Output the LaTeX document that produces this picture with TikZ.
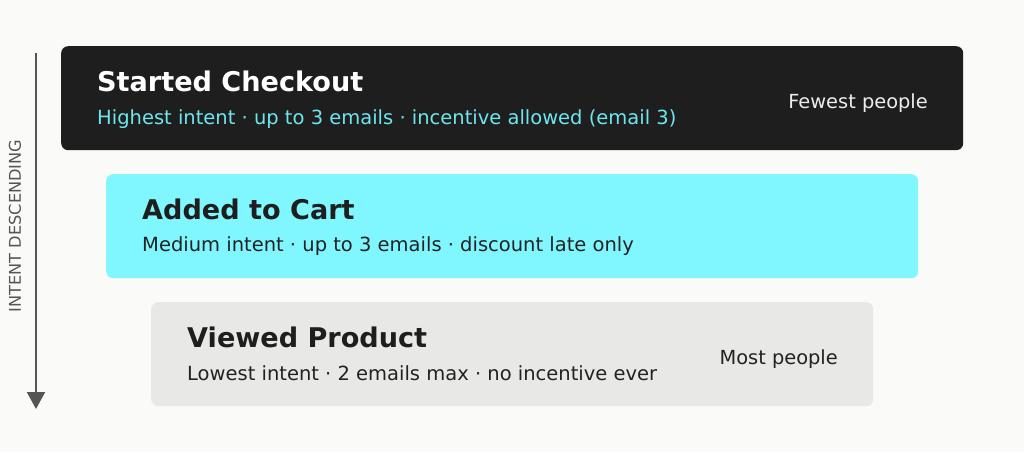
\documentclass[tikz,border=0pt]{standalone}
\usepackage{fontspec}
\setmainfont{DejaVu Sans}
\usetikzlibrary{arrows.meta}
\definecolor{bg}{HTML}{FAFAF8}
\definecolor{darkbox}{HTML}{1E1E1E}
\definecolor{cyanbox}{HTML}{80F7FF}
\definecolor{greybox}{HTML}{E8E8E6}
\definecolor{cyantext}{HTML}{6EE6EE}
\definecolor{inktext}{HTML}{222222}
\definecolor{arrowgrey}{HTML}{555555}
\definecolor{lighttext}{HTML}{EDEDED}
\tikzset{
  tier/.style={rounded corners=7pt, minimum width=#1, minimum height=104pt, inner sep=0pt, anchor=north west, draw=none},
  title/.style={anchor=base west, inner sep=0pt, font=\fontsize{27.1}{30}\selectfont\bfseries},
  sub/.style={anchor=base west, inner sep=0pt, font=\fontsize{19.5}{22}\selectfont},
  side/.style={anchor=base east, inner sep=0pt, font=\fontsize{19.4}{22}\selectfont},
}
\begin{document}
\begin{tikzpicture}[x=1pt,y=-1pt]
\fill[bg] (0,0) rectangle (1024,452);
\useasboundingbox (0,0) rectangle (1024,452);
% tiers
\node[tier=902pt, fill=darkbox] (t1) at (61,46) {};
\node[tier=812pt, fill=cyanbox] (t2) at (106,174) {};
\node[tier=722pt, fill=greybox] (t3) at (151,302) {};
% texts tier 1
\node[title, text=white] (t1h) at (97,91) {Started Checkout};
\node[sub, text=cyantext] (t1s) at (97,124) {Highest intent · up to 3 emails · incentive allowed (email 3)};
\node[side, text=lighttext] (t1r) at (928,108) {Fewest people};
% tier 2
\node[title, text=darkbox] (t2h) at (142,219) {Added to Cart};
\node[sub, text=inktext] (t2s) at (142,251) {Medium intent · up to 3 emails · discount late only};
% tier 3
\node[title, text=darkbox] (t3h) at (187,347) {Viewed Product};
\node[sub, text=inktext] (t3s) at (187,380) {Lowest intent · 2 emails max · no incentive ever};
\node[side, text=inktext] (t3r) at (838,364) {Most people};
% axis
\coordinate (a0) at (36,53);
\coordinate (a1) at (36,409);
\draw[arrowgrey, line width=2pt, -{Triangle[length=17pt,width=18pt]}] (a0) -- (a1);
\node[rotate=90, inner sep=0pt, text=arrowgrey, font=\fontsize{16.2}{18}\selectfont] (axl) at (15,226) {INTENT DESCENDING};
\end{tikzpicture}
\end{document}
